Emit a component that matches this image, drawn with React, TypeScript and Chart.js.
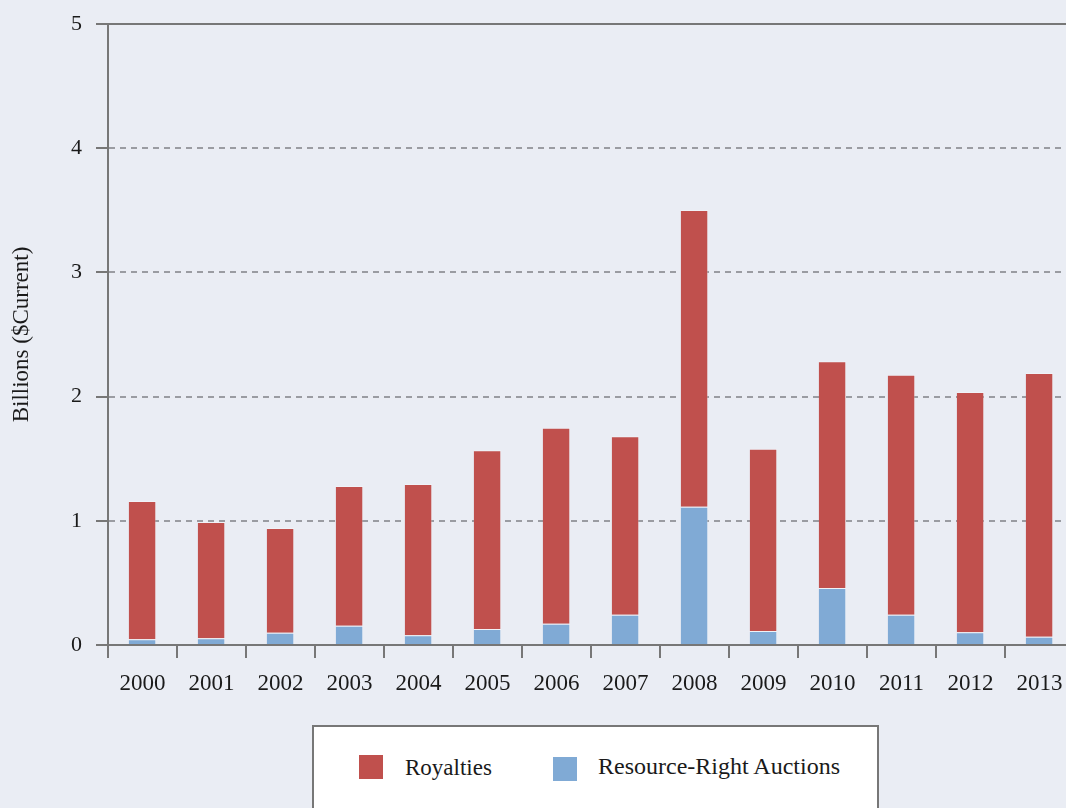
import React, { useEffect, useRef } from "react";
import { Chart, registerables } from "chart.js";

Chart.register(...registerables);

const years = ["2000", "2001", "2002", "2003", "2004", "2005", "2006", "2007", "2008", "2009", "2010", "2011", "2012", "2013"];
const auctions = [0.046, 0.054, 0.099, 0.155, 0.078, 0.129, 0.172, 0.244, 1.114, 0.113, 0.459, 0.244, 0.102, 0.067];
const royalties = [1.113, 0.936, 0.843, 1.125, 1.218, 1.439, 1.578, 1.436, 2.388, 1.467, 1.825, 1.932, 1.935, 2.123];
const yTicks = [0, 1, 2, 3, 4, 5];
const yTitle = "Billions ($Current)";
const legendLabels = ["Royalties", "Resource-Right Auctions"];

const RED = "#c0504d";
const BLUE = "#80aad5";
const BG = "#eaedf4";
const AXIS = "#777777";
const DASH = "#9a9ca2";
const FONT = "'Liberation Serif', 'Times New Roman', serif";

export default function App() {
  const ref = useRef<HTMLCanvasElement | null>(null);

  useEffect(() => {
    if (!ref.current) return;
    const chart = new Chart(ref.current, {
      type: "bar",
      data: {
        labels: years,
        datasets: [
          {
            label: legendLabels[1],
            data: auctions,
            backgroundColor: BLUE,
            borderColor: "rgba(255,255,255,0.3)",
            borderWidth: { top: 1, right: 1, left: 0, bottom: 0 },
            borderSkipped: false,
            barPercentage: 0.4,
            categoryPercentage: 1,
          },
          {
            label: legendLabels[0],
            data: royalties,
            backgroundColor: RED,
            borderColor: "rgba(255,255,255,0.3)",
            borderWidth: { top: 1, right: 1, left: 0, bottom: 0 },
            borderSkipped: false,
            barPercentage: 0.4,
            categoryPercentage: 1,
          },
        ],
      },
      options: {
        responsive: false,
        animation: false,
        layout: { padding: { left: 0, top: 24, right: 6, bottom: 0 } },
        plugins: {
          legend: { display: false },
          tooltip: { enabled: false },
        },
        scales: {
          x: {
            stacked: true,
            offset: true,
            grid: {
              display: true,
              drawOnChartArea: false,
              drawTicks: true,
              tickLength: 13,
              color: AXIS,
              lineWidth: 2,
              offset: true,
            },
            border: { display: true, color: AXIS, width: 2 },
            ticks: {
              color: "#1a1a1a",
              font: { family: FONT, size: 23 },
              padding: 12,
              maxRotation: 0,
              autoSkip: false,
            },
            afterFit: (s: any) => {
              s.height = 808 - 645;
              s.paddingLeft = 0;
              s.paddingRight = 0;
            },
          },
          y: {
            stacked: true,
            min: 0,
            max: 5,
            afterBuildTicks: (s: any) => {
              s.ticks = yTicks.map((v) => ({ value: v }));
            },
            grid: {
              drawTicks: true,
              tickLength: 12,
              tickColor: AXIS,
              tickWidth: 2,
              tickBorderDash: [],
              lineWidth: 2,
              color: (c: any) =>
                c.tick && (c.tick.value === 5 || c.tick.value === 0) ? AXIS : DASH,
            },
            border: {
              display: true,
              color: AXIS,
              width: 2,
              dash: (c: any) =>
                c.tick && c.tick.value !== 5 && c.tick.value !== 0 ? [6, 5] : [],
            },
            ticks: {
              color: "#1a1a1a",
              font: { family: FONT, size: 22 },
              padding: 14,
            },
            title: {
              display: true,
              text: yTitle,
              color: "#1a1a1a",
              font: { family: FONT, size: 23 },
              padding: { top: 8, bottom: 0 },
            },
            afterFit: (s: any) => {
              s.width = 108;
              s.paddingTop = 0;
              s.paddingBottom = 0;
            },
          },
        },
      },
    });
    return () => chart.destroy();
  }, []);

  return (
    <div
      style={{
        position: "fixed",
        left: 0,
        top: 0,
        width: 1066,
        height: 808,
        overflow: "hidden",
        background: BG,
      }}
    >
      <canvas
        ref={ref}
        width={1080}
        height={808}
        style={{ position: "absolute", left: 0, top: 0, width: 1080, height: 808 }}
      />
      <div
        style={{
          position: "absolute",
          left: 312,
          top: 725,
          width: 567,
          height: 140,
          boxSizing: "border-box",
          border: `2px solid ${AXIS}`,
          background: "#ffffff",
          fontFamily: FONT,
          color: "#1a1a1a",
        }}
      >
        <div style={{ position: "absolute", left: 45, top: 28, width: 24, height: 24, background: RED }} />
        <div style={{ position: "absolute", left: 91, top: 26, lineHeight: "30px", fontSize: 23, whiteSpace: "nowrap" }}>
          {legendLabels[0]}
        </div>
        <div style={{ position: "absolute", left: 239, top: 30, width: 24, height: 24, background: BLUE }} />
        <div style={{ position: "absolute", left: 284, top: 24, lineHeight: "30px", fontSize: 24, whiteSpace: "nowrap" }}>
          {legendLabels[1]}
        </div>
      </div>
    </div>
  );
}
